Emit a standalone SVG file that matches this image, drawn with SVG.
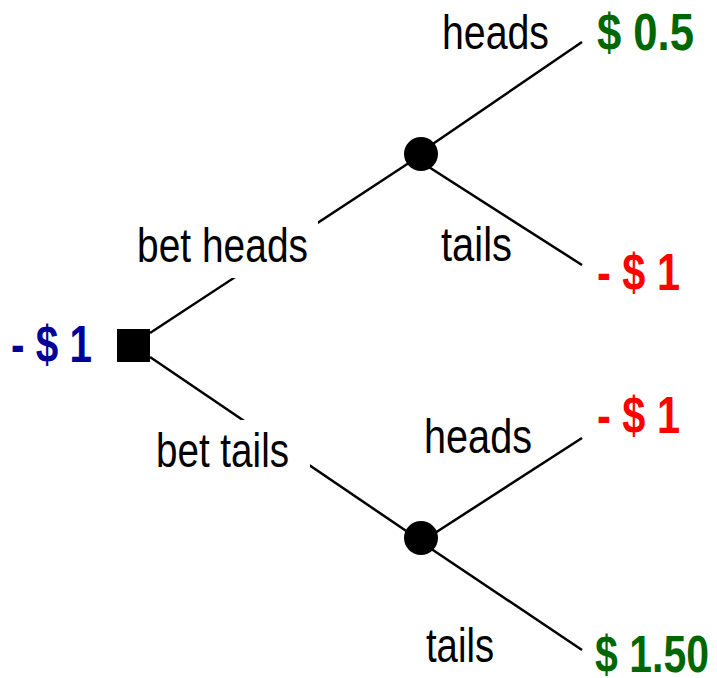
<svg xmlns="http://www.w3.org/2000/svg" width="717" height="678" viewBox="0 0 717 678">
<style>
.lbl{font-family:"Liberation Sans Narrow","Liberation Sans",Arial,sans-serif;font-size:49px;fill:#000}
.val{font-family:"Liberation Sans Narrow","Liberation Sans",Arial,sans-serif;font-size:51px;font-weight:bold}
.g{fill:#006600}.r{fill:#ff0000}.b{fill:#000099}
.edge{stroke:#000;stroke-width:2.5;fill:none}
.mask{fill:#fff}
</style>
<rect width="717" height="678" fill="#fff"/>
<g id="connectors">
<line class="edge" x1="150" y1="333" x2="421" y2="155"/>
<line class="edge" x1="150" y1="357" x2="421" y2="541"/>
<line class="edge" x1="421" y1="152" x2="582" y2="42"/>
<line class="edge" x1="421" y1="162" x2="582" y2="265"/>
<line class="edge" x1="421" y1="542" x2="582" y2="438"/>
<line class="edge" x1="421" y1="542" x2="582" y2="650"/>
</g>
<g id="label-bet-heads">
<rect class="mask" x="132" y="221" width="186" height="57"/>
<text class="lbl" x="137" y="262" textLength="171" lengthAdjust="spacingAndGlyphs">bet heads</text>
</g>
<g id="label-bet-tails">
<rect class="mask" x="150" y="420" width="160" height="60"/>
<text class="lbl" x="156" y="467" textLength="133" lengthAdjust="spacingAndGlyphs">bet tails</text>
</g>
<g id="label-heads-1"><text class="lbl" x="442" y="49" textLength="107" lengthAdjust="spacingAndGlyphs">heads</text></g>
<g id="label-tails-1"><text class="lbl" x="441" y="261" textLength="71" lengthAdjust="spacingAndGlyphs">tails</text></g>
<g id="label-heads-2"><text class="lbl" x="424" y="453" textLength="108" lengthAdjust="spacingAndGlyphs">heads</text></g>
<g id="label-tails-2"><text class="lbl" x="426" y="662" textLength="68" lengthAdjust="spacingAndGlyphs">tails</text></g>
<g id="decision">
<rect x="117" y="329" width="33" height="33" fill="#000"/>
<text class="val b" x="11" y="362" textLength="81" lengthAdjust="spacingAndGlyphs">- $ 1</text>
</g>
<g id="chance-1"><circle cx="421" cy="154" r="17" fill="#000"/></g>
<g id="chance-2"><circle cx="421" cy="538" r="17" fill="#000"/></g>
<g id="payoff-1"><text class="val g" x="597" y="50" textLength="97" lengthAdjust="spacingAndGlyphs">$ 0.5</text></g>
<g id="payoff-2"><text class="val r" x="597" y="290" textLength="83" lengthAdjust="spacingAndGlyphs">- $ 1</text></g>
<g id="payoff-3"><text class="val r" x="597" y="433" textLength="83" lengthAdjust="spacingAndGlyphs">- $ 1</text></g>
<g id="payoff-4"><text class="val g" x="595" y="672" textLength="114" lengthAdjust="spacingAndGlyphs">$ 1.50</text></g>
</svg>
